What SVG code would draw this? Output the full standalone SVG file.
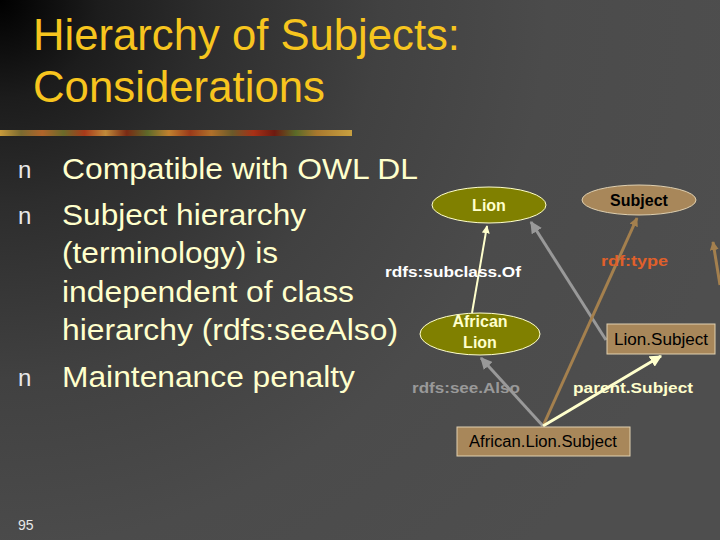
<svg xmlns="http://www.w3.org/2000/svg" width="720" height="540" viewBox="0 0 720 540">
<defs>
<radialGradient id="bg" gradientUnits="userSpaceOnUse" cx="0" cy="0" r="760">
<stop offset="0" stop-color="#000"/>
<stop offset="0.13" stop-color="#1c1c1c"/>
<stop offset="0.27" stop-color="#2d2d2d"/>
<stop offset="0.5" stop-color="#414141"/>
<stop offset="0.72" stop-color="#4b4b4b"/>
<stop offset="1" stop-color="#4e4e4e"/>
</radialGradient>
<linearGradient id="bar" x1="0" y1="0" x2="1" y2="0">
<stop offset="0" stop-color="#c89a3a"/>
<stop offset="0.06" stop-color="#7a6a30"/>
<stop offset="0.12" stop-color="#b0642a"/>
<stop offset="0.18" stop-color="#6a6a2a"/>
<stop offset="0.24" stop-color="#a83a1a"/>
<stop offset="0.30" stop-color="#c08a3a"/>
<stop offset="0.36" stop-color="#7a2a14"/>
<stop offset="0.42" stop-color="#5e6a2a"/>
<stop offset="0.48" stop-color="#c0802e"/>
<stop offset="0.54" stop-color="#9a3a1a"/>
<stop offset="0.60" stop-color="#b0702a"/>
<stop offset="0.66" stop-color="#6a5a2a"/>
<stop offset="0.72" stop-color="#a83016"/>
<stop offset="0.78" stop-color="#6e1a10"/>
<stop offset="0.84" stop-color="#5a6a28"/>
<stop offset="0.90" stop-color="#a8782e"/>
<stop offset="1" stop-color="#c8a040"/>
</linearGradient>
<marker id="aCream" viewBox="0 0 10 10" refX="9" refY="5" markerWidth="4" markerHeight="4" orient="auto"><path d="M0,0 L10,5 L0,10 z" fill="#ffffcc"/></marker>
<marker id="aGray" viewBox="0 0 10 10" refX="9" refY="5" markerWidth="4" markerHeight="4" orient="auto"><path d="M0,0 L10,5 L0,10 z" fill="#999999"/></marker>
<marker id="aTan" viewBox="0 0 10 10" refX="9" refY="5" markerWidth="3" markerHeight="3" orient="auto"><path d="M0,0 L10,5 L0,10 z" fill="#a4804e"/></marker>
</defs>
<style>
.title{font-family:"Liberation Sans",Arial,sans-serif;font-size:45px;fill:#f7c51e}
.body{font-family:"Liberation Sans",Arial,sans-serif;font-size:30px;fill:#ffffcc}
.bul{font-family:"Liberation Sans",Arial,sans-serif;font-size:24px;fill:#e8e8e8}
.lbl{font-family:"Liberation Sans",Arial,sans-serif;font-size:15px;font-weight:bold}
.node{font-family:"Liberation Sans",Arial,sans-serif;font-size:16px;text-anchor:middle}
.olive{fill:#808000;stroke:#ffffcc;stroke-width:1}
.tan{fill:#a8875a;stroke:#e0d0b0;stroke-width:1}
</style>
<rect width="720" height="540" fill="url(#bg)"/>
<text class="title" x="33" y="50" textLength="427" lengthAdjust="spacingAndGlyphs">Hierarchy of Subjects:</text>
<text class="title" x="33" y="102" textLength="292" lengthAdjust="spacingAndGlyphs">Considerations</text>
<rect x="0" y="130" width="352" height="6" fill="url(#bar)"/>
<g id="bullets">
<text class="bul" x="18" y="178">n</text>
<text class="bul" x="18" y="224">n</text>
<text class="bul" x="18" y="386">n</text>
<text class="body" x="62" y="179" textLength="356" lengthAdjust="spacingAndGlyphs">Compatible with OWL DL</text>
<text class="body" x="62" y="225" textLength="244" lengthAdjust="spacingAndGlyphs">Subject hierarchy</text>
<text class="body" x="62" y="263" textLength="216" lengthAdjust="spacingAndGlyphs">(terminology) is</text>
<text class="body" x="62" y="302" textLength="292" lengthAdjust="spacingAndGlyphs">independent of class</text>
<text class="body" x="62" y="340" textLength="336" lengthAdjust="spacingAndGlyphs">hierarchy (rdfs:seeAlso)</text>
<text class="body" x="62" y="387" textLength="293" lengthAdjust="spacingAndGlyphs">Maintenance penalty</text>
</g>
<text x="18" y="530" font-family="Liberation Sans,Arial,sans-serif" font-size="14" fill="#e8e8e8">95</text>
<g id="connectors" fill="none">
<line x1="472" y1="313" x2="487" y2="226" stroke="#ffffcc" stroke-width="2" marker-end="url(#aCream)"/>
<line x1="606" y1="340" x2="531" y2="222" stroke="#999999" stroke-width="3" marker-end="url(#aGray)"/>
<line x1="543" y1="426" x2="637" y2="218" stroke="#a4804e" stroke-width="3" marker-end="url(#aTan)"/>
<line x1="543" y1="426" x2="481" y2="358" stroke="#999999" stroke-width="3" marker-end="url(#aGray)"/>
<line x1="543" y1="426" x2="661" y2="356" stroke="#ffffcc" stroke-width="3" marker-end="url(#aCream)"/>
<line x1="720" y1="285" x2="713" y2="242" stroke="#a4804e" stroke-width="3" marker-end="url(#aTan)"/>
<text class="lbl" x="385" y="277" fill="#ffffff" textLength="136" lengthAdjust="spacingAndGlyphs">rdfs:subclass.Of</text>
<text class="lbl" x="601" y="266" fill="#e0602a" textLength="67" lengthAdjust="spacingAndGlyphs">rdf:type</text>
<text class="lbl" x="412" y="393" fill="#999999" textLength="108" lengthAdjust="spacingAndGlyphs">rdfs:see.Also</text>
<text class="lbl" x="573" y="393" fill="#ffffcc" textLength="120" lengthAdjust="spacingAndGlyphs">parent.Subject</text>
</g>
<g id="lion">
<ellipse class="olive" cx="489" cy="205" rx="57" ry="18"/>
<text class="node" x="489" y="211" font-weight="bold" fill="#ffffcc">Lion</text>
</g>
<g id="subject">
<ellipse class="tan" cx="639" cy="200" rx="57" ry="15"/>
<text class="node" x="639" y="206" font-weight="bold" fill="#000">Subject</text>
</g>
<g id="africanlion">
<ellipse class="olive" cx="480" cy="334" rx="60" ry="21"/>
<text class="node" x="480" y="327" font-weight="bold" fill="#ffffcc">African</text>
<text class="node" x="480" y="348" font-weight="bold" fill="#ffffcc">Lion</text>
</g>
<g id="lionsubject">
<rect class="tan" x="607" y="324" width="108" height="30"/>
<text class="node" x="661" y="345" fill="#000" textLength="94" lengthAdjust="spacingAndGlyphs">Lion.Subject</text>
</g>
<g id="africanlionsubject">
<rect class="tan" x="457" y="427" width="173" height="29"/>
<text class="node" x="543" y="447" fill="#000" textLength="148" lengthAdjust="spacingAndGlyphs">African.Lion.Subject</text>
</g>
</svg>
